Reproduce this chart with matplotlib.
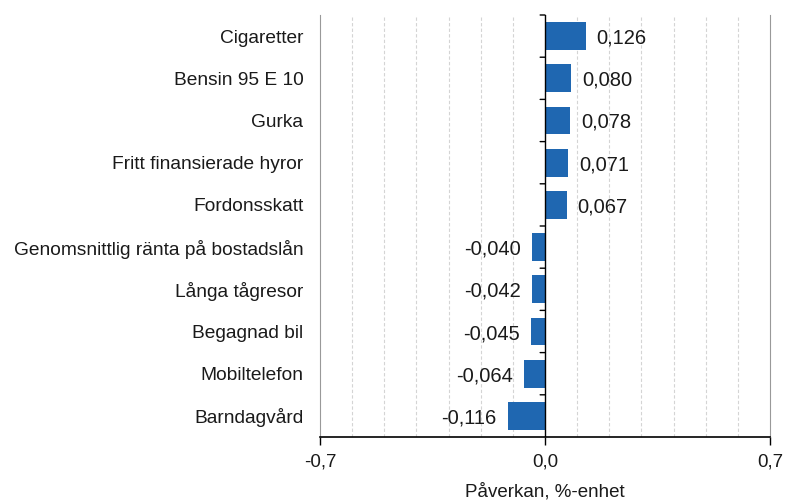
import matplotlib.pyplot as plt
import numpy as np

# --- Data ---
categories = ["Cigaretter", "Bensin 95 E 10", "Gurka", "Fritt finansierade hyror",
              "Fordonsskatt", "Genomsnittlig ränta på bostadslån", "Långa tågresor",
              "Begagnad bil", "Mobiltelefon", "Barndagvård"]
values = [0.126, 0.080, 0.078, 0.071, 0.067, -0.040, -0.042, -0.045, -0.064, -0.116]
x_ticks = [-0.7, 0.0, 0.7]
x_tick_labels = ["-0,7", "0,0", "0,7"]

BAR_COLOR = "#1f67b1"
TEXT_COLOR = "#1a1a1a"
plt.rcParams['font.family'] = ['Liberation Sans', 'DejaVu Sans']

fig = plt.figure(figsize=(7.87, 5.03), dpi=100)
ax = fig.add_axes([320 / 787, 1 - 437 / 503, 450 / 787, 422 / 503])

y = np.arange(len(categories))
ax.barh(y, values, height=0.66, color=BAR_COLOR, zorder=3)
ax.set_ylim(len(categories) - 0.5, -0.5)
ax.set_xlim(-0.7, 0.7)

# dashed grid every 0.1
for gx in np.arange(-0.6, 0.65, 0.1):
    if abs(gx) > 1e-9:
        ax.axvline(gx, color="#d4d4d4", lw=0.8, ls=(0, (3, 2)), zorder=1)

# zero line with small ticks between categories
ax.axvline(0, color="black", lw=1.0, zorder=4)
for b in np.arange(-0.5, len(categories) - 0.5, 1.0):
    ax.annotate("", xy=(0, b), xytext=(-3.5, 0), textcoords="offset points",
                xycoords="data", arrowprops=dict(arrowstyle="-", color="black",
                                                 lw=1.0, shrinkA=0, shrinkB=0))

# value labels
for yi, v in zip(y, values):
    lab = f"{v:.3f}".replace(".", ",")
    if v >= 0:
        ax.annotate(lab, (v, yi), xytext=(8, 0), textcoords="offset points",
                    ha="left", va="center_baseline", fontsize=14.5, color=TEXT_COLOR)
    else:
        ax.annotate(lab, (v, yi), xytext=(-8, 0), textcoords="offset points",
                    ha="right", va="center_baseline", fontsize=14.5, color=TEXT_COLOR)

ax.set_yticks(y)
ax.set_yticklabels(categories, fontsize=13.8, color=TEXT_COLOR)
ax.tick_params(axis="y", length=0, pad=12)

ax.set_xticks(x_ticks)
ax.set_xticklabels(x_tick_labels, fontsize=13.5, color=TEXT_COLOR)
ax.tick_params(axis="x", length=6, width=1.0, direction="out", pad=6)
ax.set_xlabel("Påverkan, %-enhet", fontsize=13.5, color=TEXT_COLOR, labelpad=9)

ax.spines["top"].set_visible(False)
ax.spines["left"].set_color("#999999")
ax.spines["right"].set_color("#999999")
ax.spines["bottom"].set_color("black")
ax.spines["bottom"].set_linewidth(1.2)

fig.savefig("out.png", dpi=100)
